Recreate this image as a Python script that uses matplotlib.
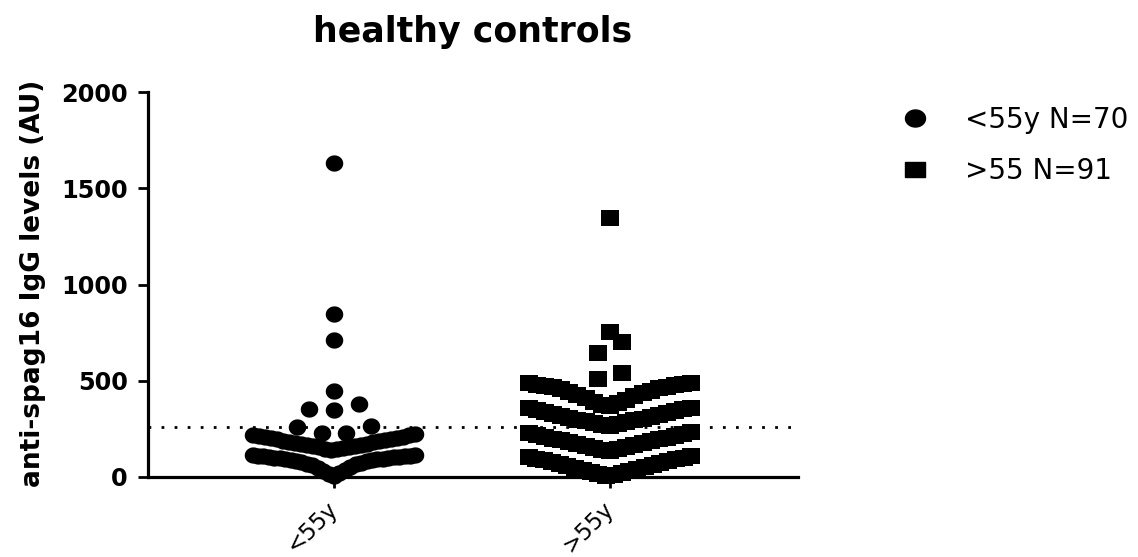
import numpy as np
import matplotlib
matplotlib.use("Agg")
import matplotlib.pyplot as plt
from matplotlib.lines import Line2D
from matplotlib.path import Path

plt.rcParams['font.family'] = ['DejaVu Sans']

# ---------------- data ----------------
categories = ["<55y", ">55y"]
legend_labels = ["<55y N=70", ">55 N=91"]
title = "healthy controls"
ylabel = "anti-spag16 IgG levels (AU)"
yticks = [0, 500, 1000, 1500, 2000]
cutoff = 260

young = [
    6, 14, 22, 30, 38, 46, 53, 60, 65, 70, 74, 78, 81, 84, 87, 89,
    91, 93, 95, 97, 99, 101, 103, 105, 106, 108, 109, 110, 111, 112, 113,
    142, 145, 148, 151, 154, 157, 160, 163, 165, 168, 171, 174, 177, 180,
    183, 186, 189, 192, 195, 198, 201, 204, 207, 210, 213, 216, 220, 224,
    228, 229, 258, 265,
    350, 353, 380,
    445, 710, 845, 1630,
]

old = [
    5, 10, 15, 20, 25, 30, 36, 41, 46, 51, 56, 61, 66, 71, 76, 81, 86, 91, 96, 101, 106, 110,
    135, 140, 145, 150, 155, 160, 165, 170, 175, 180, 185, 190, 195, 200, 205, 210, 215, 220, 225, 230, 234,
    265, 270, 274, 279, 284, 289, 294, 298, 303, 308, 313, 318, 322, 327, 332, 337, 341, 346, 351, 356, 361,
    370, 376, 382, 390, 398, 410, 420, 428, 436, 443, 449, 455, 460, 465, 469, 473, 477, 480, 483, 486, 489,
    509, 540, 644, 701, 753, 1345,
]


def row_layout(values, center, bin_w, origin, step, max_half):
    """GraphPad-like scatter dot layout: values binned into rows,
    lowest values of each row in the middle, spreading outwards."""
    v = np.asarray(values, dtype=float)
    x = np.zeros_like(v)
    bins = np.floor((v - origin) / bin_w).astype(int)
    for b in np.unique(bins):
        idx = np.where(bins == b)[0]
        idx = idx[np.argsort(v[idx], kind="stable")]
        n = len(idx)
        sp = step if n < 2 else min(step, 2 * max_half / (n - 1))
        slots = (np.arange(n) - (n - 1) / 2) * sp
        order = sorted(range(n), key=lambda i: (round(abs(slots[i]), 9), slots[i]))
        for k, i in enumerate(order):
            x[idx[k]] = center + slots[i]
    return x, v


def ellipse_marker(ry):
    t = np.linspace(0, 2 * np.pi, 64)
    verts = np.column_stack([np.cos(t), ry * np.sin(t)])
    return Path(verts, closed=True)


def rect_marker(ry):
    verts = [(-1, -ry), (1, -ry), (1, ry), (-1, ry), (-1, -ry)]
    return Path(verts, closed=True)


fig = plt.figure(figsize=(11.38, 5.57), dpi=100)
ax = fig.add_axes([148 / 1138, 1 - 477 / 557, 650 / 1138, 385 / 557])

x1, y1 = row_layout(young, 0, 110, 5, 0.09, 0.295)
x2, y2 = row_layout(old, 1, 125, -10, 0.09, 0.295)

ax.scatter(x1, y1, s=12.6 ** 2, marker=ellipse_marker(0.93), color='black', linewidths=0,
           clip_on=False, zorder=3)
ax.scatter(x2, y2, s=12.8 ** 2, marker=rect_marker(0.9), color='black', linewidths=0,
           clip_on=False, zorder=3)

ax.axhline(cutoff, color='black', lw=2, linestyle=(0, (1, 3.7)), zorder=2)

ax.set_xlim(-0.674, 1.681)
ax.set_ylim(0, 2000)
ax.set_yticks(yticks)
ax.set_yticklabels([str(t) for t in yticks], fontsize=17.3, fontweight='bold')
ax.set_xticks([0, 1])
ax.set_xticklabels(categories, fontsize=16.5, rotation=45, ha='right', va='center',
                   rotation_mode='anchor')
ax.tick_params(axis='y', length=7.5, width=2, pad=7)
ax.tick_params(axis='x', length=8, width=2, pad=12)

for s in ['top', 'right']:
    ax.spines[s].set_visible(False)
for s in ['left', 'bottom']:
    ax.spines[s].set_linewidth(2.3)

fig.text(473 / 1138, 1 - 32 / 557, title, fontsize=25, fontweight='bold',
         ha='center', va='center')
fig.text(33 / 1138, 1 - 283 / 557, ylabel, fontsize=19, fontweight='bold',
         rotation=90, ha='center', va='center')

handles = [
    Line2D([], [], marker=ellipse_marker(0.85), linestyle='none', color='black', markersize=14.4),
    Line2D([], [], marker=rect_marker(0.75), linestyle='none', color='black', markersize=14.4),
]
fig.legend(handles, legend_labels, loc='upper left', bbox_to_anchor=(901 / 1138, 1 - 106 / 557),
           frameon=False, fontsize=20, handlelength=1.0, handletextpad=1.3,
           labelspacing=0.83, borderpad=0, borderaxespad=0)

fig.savefig("out.png", dpi=100)
